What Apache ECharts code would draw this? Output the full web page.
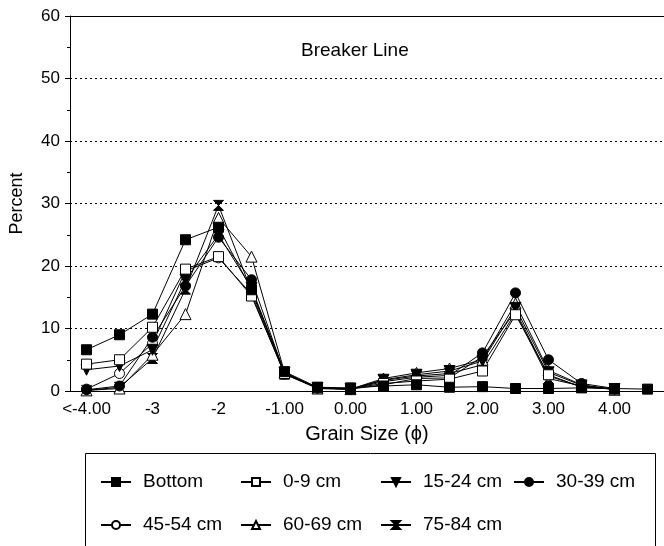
<!DOCTYPE html>
<html>
<head>
<meta charset="utf-8">
<script src="https://cdn.jsdelivr.net/npm/echarts@6/dist/echarts.min.js"></script>
<style>
  html, body { margin: 0; padding: 0; background: #fff; }
  #chart { width: 664px; height: 546px; }
</style>
</head>
<body>
<div id="chart"></div>
<script>
// grain size classes (phi), one label every other class
var categories = ["-4.0", "-3.5", "-3.0", "-2.5", "-2.0", "-1.5", "-1.0", "-0.5", "0.0",
  "0.5", "1.0", "1.5", "2.0", "2.5", "3.0", "3.5", "4.0", "4.5"];
var tickLabels = ["<-4.00", "", "-3", "", "-2", "", "-1.00", "", "0.00",
  "", "1.00", "", "2.00", "", "3.00", "", "4.00", ""];

// percent by depth
var bottom = [6.6, 9.0, 12.3, 24.2, 26.2, 16.2, 3.1, 0.6, 0.5, 0.8, 1.0, 0.6, 0.7, 0.4, 0.4, 0.5, 0.4, 0.3];
var cm0_9 = [4.3, 5.0, 10.2, 19.5, 21.5, 15.2, 2.8, 0.5, 0.4, 1.2, 1.6, 1.9, 3.2, 12.2, 2.6, 0.6, 0.3, null];
var cm15_24 = [3.4, 4.0, 6.6, 17.8, 25.0, 16.5, 2.9, 0.5, 0.3, 1.8, 2.6, 3.2, 4.8, 13.3, 3.0, 0.9, 0.3, null];
var cm30_39 = [0.2, 0.8, 8.6, 16.8, 24.6, 17.8, 2.8, 0.5, 0.3, 1.5, 2.2, 2.5, 6.1, 15.7, 5.0, 1.2, 0.4, null];
var cm45_54 = [0.3, 2.8, 7.6, 19.2, 21.3, 15.5, 2.7, 0.5, 0.3, 1.0, 2.0, 2.1, 5.5, 12.8, 2.4, 0.7, 0.3, null];
var cm60_69 = [0.1, 0.4, 5.8, 12.3, 27.7, 21.5, 3.0, 0.4, 0.3, 2.0, 2.9, 3.6, 5.0, 14.0, 3.3, 1.0, 0.2, null];
var cm75_84 = [0.1, 0.6, 5.2, 16.3, 29.7, 16.0, 2.7, 0.4, 0.3, 1.7, 2.4, 2.8, 4.2, 12.5, 2.0, 0.8, 0.3, null];

var FONT = "Liberation Sans";
var hourglass = "path://M0,0L10,0L5,5L10,10L0,10L5,5Z";

function mkSeries(name, data, symbol, filled, size, rotate) {
  return {
    name: name,
    type: "line",
    data: data,
    symbol: symbol,
    symbolSize: size,
    symbolRotate: rotate || 0,
    showAllSymbol: true,
    connectNulls: false,
    lineStyle: { color: "#000", width: 1 },
    itemStyle: {
      color: filled ? "#000" : "#fff",
      borderColor: "#000",
      borderWidth: 1
    },
    emphasis: { disabled: true }
  };
}

function legendCol(left, names) {
  return {
    orient: "vertical",
    left: left,
    top: 467,
    itemWidth: 30,
    itemHeight: 10,
    itemGap: 23,
    data: names,
    selectedMode: false,
    textStyle: { fontFamily: FONT, fontSize: 19, color: "#000", lineHeight: 20, padding: [0, 0, 0, 7] }
  };
}

var chart = echarts.init(document.getElementById("chart"));
var option = {
  backgroundColor: "#fff",
  animation: false,
  title: {
    text: "Breaker Line",
    left: 296,
    top: 36,
    textStyle: { fontFamily: FONT, fontSize: 19, fontWeight: "normal", color: "#000" }
  },
  grid: { left: 70, right: 0, top: 16, bottom: 155, containLabel: false },
  xAxis: [
    {
      type: "category",
      data: categories,
      boundaryGap: true,
      name: "Grain Size (ϕ)",
      nameLocation: "middle",
      nameGap: 33,
      nameTextStyle: { fontFamily: FONT, fontSize: 20, color: "#000" },
      axisLine: { lineStyle: { color: "#000", width: 1 } },
      axisTick: { alignWithLabel: true, interval: 0, length: 5, lineStyle: { color: "#000" } },
      axisLabel: {
        interval: 0,
        margin: 10,
        fontFamily: FONT,
        fontSize: 17,
        color: "#000",
        formatter: function (v, i) { return tickLabels[i]; }
      },
      splitLine: { show: false }
    },
    {
      type: "category",
      data: categories,
      position: "top",
      axisLine: { lineStyle: { color: "#000", width: 1 } },
      axisTick: { show: false },
      axisLabel: { show: false },
      splitLine: { show: false }
    }
  ],
  yAxis: {
    type: "value",
    min: 0,
    max: 60,
    interval: 10,
    name: "Percent",
    nameLocation: "middle",
    nameRotate: 90,
    nameGap: 44,
    nameTextStyle: { fontFamily: FONT, fontSize: 18, color: "#000" },
    axisLine: { show: true, lineStyle: { color: "#000", width: 1 } },
    axisTick: { show: true, length: 5, lineStyle: { color: "#000" } },
    minorTick: { show: true, splitNumber: 2, length: 3, lineStyle: { color: "#000" } },
    axisLabel: { margin: 10, fontFamily: FONT, fontSize: 17, color: "#000" },
    splitLine: { show: true, lineStyle: { color: "#000", width: 1, type: [2, 3] } }
  },
  legend: [
    legendCol(95, ["Bottom", "45-54 cm"]),
    legendCol(235, ["0-9 cm", "60-69 cm"]),
    legendCol(375, ["15-24 cm", "75-84 cm"]),
    legendCol(508, ["30-39 cm"])
  ],
  graphic: [
    {
      type: "rect",
      shape: { x: 85.5, y: 453.5, width: 570, height: 120 },
      style: { fill: "none", stroke: "#000", lineWidth: 1 },
      silent: true
    }
  ],
  series: [
    mkSeries("75-84 cm", cm75_84, hourglass, true, 10),
    mkSeries("60-69 cm", cm60_69, "triangle", false, 11),
    mkSeries("45-54 cm", cm45_54, "circle", false, 10),
    mkSeries("30-39 cm", cm30_39, "circle", true, 10),
    mkSeries("15-24 cm", cm15_24, "triangle", true, 11, 180),
    mkSeries("0-9 cm", cm0_9, "rect", false, 10),
    mkSeries("Bottom", bottom, "rect", true, 10)
  ]
};
chart.setOption(option);
</script>
</body>
</html>
